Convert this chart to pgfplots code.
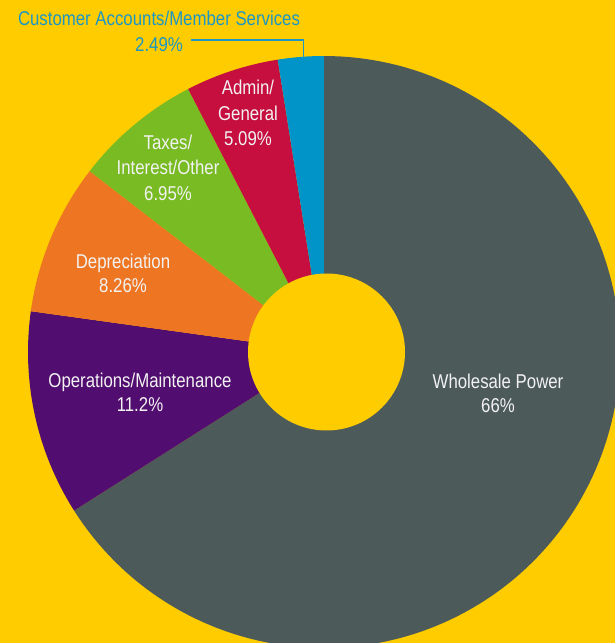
\documentclass[border=0pt]{standalone}
\usepackage{pgfplots}
\pgfplotsset{compat=1.18}
\usepackage{fontspec}
\setmainfont{Liberation Sans}[FakeStretch=0.84]

\definecolor{bg}{HTML}{FFCC00}
\definecolor{cgray}{HTML}{4D5A5A}
\definecolor{cpurple}{HTML}{520D70}
\definecolor{corange}{HTML}{EE7623}
\definecolor{cgreen}{HTML}{78BB23}
\definecolor{cred}{HTML}{C60E3F}
\definecolor{cblue}{HTML}{0094C8}
\definecolor{cbluetext}{HTML}{1C97C4}
\definecolor{ctext}{HTML}{F2F2F2}

% shares in percent
\def\pWholesale{66}
\def\pOper{11.2}
\def\pDepr{8.26}
\def\pTax{6.95}
\def\pAdmin{5.09}
\def\pCust{2.49}

% pie geometry (1 unit = 1pt, origin bottom left)
\def\cx{324}
\def\cy{291}
\def\R{296}

\begin{document}
\begin{tikzpicture}[
    lbl/.style={font=\fontsize{20}{24}\selectfont,text=ctext,anchor=base,inner sep=0pt},
]
% cumulative angles, clockwise from 12 o'clock
\pgfmathsetmacro{\aA}{90}
\pgfmathsetmacro{\aB}{\aA-3.6*\pWholesale}
\pgfmathsetmacro{\aC}{\aB-3.6*\pOper}
\pgfmathsetmacro{\aD}{\aC-3.6*\pDepr}
\pgfmathsetmacro{\aE}{\aD-3.6*\pTax}
\pgfmathsetmacro{\aF}{\aE-3.6*\pAdmin}
\pgfmathsetmacro{\aG}{\aF-3.6*\pCust}
\begin{axis}[
    width=615pt,height=643pt,scale only axis,
    xmin=0,xmax=615,ymin=0,ymax=643,
    hide axis,
    every axis plot/.append style={draw=none,variable=\t},
]
\fill[bg] (axis cs:0,0) rectangle (axis cs:615,643);

\addplot[fill=cgray,domain=\aB:\aA,samples=150]
    ({\cx+\R*cos(\t)},{\cy+\R*sin(\t)}) -- (axis cs:\cx,\cy) -- cycle;
\addplot[fill=cpurple,domain=\aC:\aB,samples=40]
    ({\cx+\R*cos(\t)},{\cy+\R*sin(\t)}) -- (axis cs:\cx,\cy) -- cycle;
\addplot[fill=corange,domain=\aD:\aC,samples=40]
    ({\cx+\R*cos(\t)},{\cy+\R*sin(\t)}) -- (axis cs:\cx,\cy) -- cycle;
\addplot[fill=cgreen,domain=\aE:\aD,samples=40]
    ({\cx+\R*cos(\t)},{\cy+\R*sin(\t)}) -- (axis cs:\cx,\cy) -- cycle;
\addplot[fill=cred,domain=\aF:\aE,samples=30]
    ({\cx+\R*cos(\t)},{\cy+\R*sin(\t)}) -- (axis cs:\cx,\cy) -- cycle;
\addplot[fill=cblue,domain=\aG:\aF,samples=20]
    ({\cx+\R*cos(\t)},{\cy+\R*sin(\t)}) -- (axis cs:\cx,\cy) -- cycle;

% hole
\fill[bg] (axis cs:326.5,291) circle[radius=78.5pt];

% labels
\node[lbl] at (axis cs:498,254) {Wholesale Power};
\node[lbl] at (axis cs:498,230) {66\%};
\node[lbl] at (axis cs:140,255) {Operations/Maintenance};
\node[lbl] at (axis cs:140,231) {11.2\%};
\node[lbl] at (axis cs:123,374) {Depreciation};
\node[lbl] at (axis cs:123,350) {8.26\%};
\node[lbl] at (axis cs:168,493) {Taxes/};
\node[lbl] at (axis cs:168,468) {Interest/Other};
\node[lbl] at (axis cs:168,442) {6.95\%};
\node[lbl] at (axis cs:248,548) {Admin/};
\node[lbl] at (axis cs:248,522) {General};
\node[lbl] at (axis cs:248,497) {5.09\%};
\node[lbl,text=cbluetext] at (axis cs:159,617) {Customer Accounts/Member Services};
\node[lbl,text=cbluetext] at (axis cs:159,591) {2.49\%};
\draw[cbluetext,line width=1.3pt] (axis cs:191,603) -- (axis cs:303.5,603) -- (axis cs:303.5,586);
\end{axis}
\pgfresetboundingbox
\path[use as bounding box] (current axis.south west) rectangle (current axis.north east);
\end{tikzpicture}
\end{document}
